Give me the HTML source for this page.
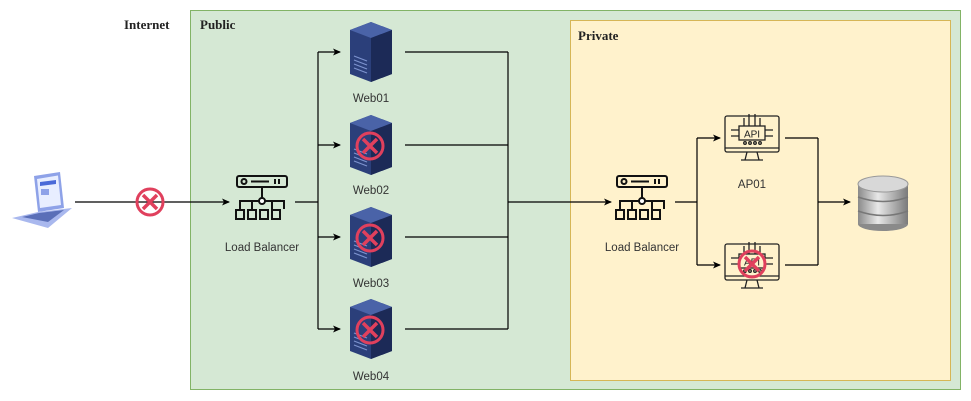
<!DOCTYPE html>
<html><head><style>
body{margin:0;background:#fff;width:971px;height:401px;overflow:hidden}
svg{display:block}
text{font-family:"Liberation Sans",sans-serif}
.lbl{font-family:"Liberation Sans",sans-serif;font-size:11.5px;fill:#333}
.h{font-family:"Liberation Serif",serif;font-weight:bold;font-size:13px;fill:#222}
</style></head><body>
<svg width="971" height="401" viewBox="0 0 971 401">
<defs>
<marker id="a" markerWidth="8" markerHeight="8" refX="7" refY="4" orient="auto" markerUnits="userSpaceOnUse"><path d="M0,0.5 L8,4 L0,7.5 L2,4z" fill="#000"/></marker>
<g id="srv">
<path d="M0,8 L21,0 L42,8 L42,52 L21,60 L0,52z" fill="#2b3f7a"/>
<path d="M0,8 L21,16 L42,8 L21,0z" fill="#4a63a8"/>
<path d="M21,16 L42,8 L42,52 L21,60z" fill="#1c2a57"/>
<g stroke="#7d93cf" stroke-width="1.2"><line x1="4" y1="34" x2="17" y2="39"/><line x1="4" y1="38" x2="17" y2="43"/><line x1="4" y1="42" x2="17" y2="47"/><line x1="4" y1="46" x2="17" y2="51"/></g>
</g>
<g id="err"><circle cx="0" cy="0" r="13" fill="none" stroke="#e0405d" stroke-width="3"/><path d="M-7,-7 L7,7 M7,-7 L-7,7" stroke="#e0405d" stroke-width="3.5"/></g>
<g id="lb" fill="none" stroke="#111" stroke-width="2">
<rect x="2" y="0" width="50" height="11" rx="2"/><circle cx="9" cy="5.5" r="2.5"/><line x1="16" y1="5.5" x2="34" y2="5.5"/><line x1="40" y1="3" x2="40" y2="8"/><line x1="44" y1="3" x2="44" y2="8"/>
<line x1="27" y1="11" x2="27" y2="22"/><circle cx="27" cy="25" r="3" fill="#fff"/>
<path d="M5,33 V25 H24 M30,25 H49 V33 M17,33 V25 M37,33 V25"/>
<rect x="1" y="34" width="8" height="9"/><rect x="13" y="34" width="8" height="9"/><rect x="25" y="34" width="8" height="9"/><rect x="37" y="34" width="8" height="9"/>
</g>
<g id="api" fill="none" stroke="#222" stroke-width="1.3">
<rect x="0" y="4" width="54" height="36" rx="2"/><line x1="0" y1="36" x2="54" y2="36"/>
<path d="M22,40 L20,48 M32,40 L34,48 M16,48 H38"/>
<rect x="14" y="14" width="26" height="14"/>
<text x="27" y="25.5" font-size="10" text-anchor="middle" fill="#222" stroke="none" font-family="Liberation Mono,monospace">API</text>
<path d="M19,14 V6 M24,14 V2 M30,14 V2 M35,14 V6 M14,18 H6 M14,24 H6 M40,18 H48 M40,24 H48"/>
<circle cx="20" cy="31" r="1.3"/><circle cx="25" cy="31" r="1.3"/><circle cx="30" cy="31" r="1.3"/><circle cx="35" cy="31" r="1.3"/>
</g>
<linearGradient id="dbg" x1="0" x2="1"><stop offset="0" stop-color="#8a8a8a"/><stop offset=".4" stop-color="#e8e8e8"/><stop offset="1" stop-color="#7a7a7a"/></linearGradient>
</defs>
<rect x="190.5" y="10.5" width="770" height="379" fill="#d5e8d4" stroke="#82b366"/>
<rect x="570.5" y="20.5" width="380" height="360" fill="#fff2cc" stroke="#d6b656"/>
<text class="h" x="124" y="29">Internet</text>
<text class="h" x="200" y="29">Public</text>
<text class="h" x="578" y="40">Private</text>
<!-- laptop -->
<g transform="translate(12,172)">
<path d="M22,4 L48,0 L52,36 L26,40z" fill="#8ea2e8"/>
<path d="M25,7 L46,3.5 L49,33 L28,36z" fill="#e8eeff"/>
<path d="M28,10 L44,8 L44,12 L28,14z" fill="#4a6ad8"/>
<rect x="29" y="17" width="8" height="6" fill="#8ea2e8"/>
<path d="M0,46 L26,40 L60,36 L36,56z" fill="#a9b8ee"/>
<path d="M10,45 L27,41 L52,38 L36,50z" fill="#5a6fb8"/>
</g>
<g fill="none" stroke="#000" stroke-width="1.2">
<line x1="75" y1="202" x2="229" y2="202" marker-end="url(#a)"/>
<path d="M295,202 H318 M318,52 V329"/>
<line x1="318" y1="52" x2="340" y2="52" marker-end="url(#a)"/>
<line x1="318" y1="145" x2="340" y2="145" marker-end="url(#a)"/>
<line x1="318" y1="237" x2="340" y2="237" marker-end="url(#a)"/>
<line x1="318" y1="329" x2="340" y2="329" marker-end="url(#a)"/>
<path d="M405,52 H508 M405,145 H508 M405,237 H508 M405,329 H508 M508,52 V329"/>
<line x1="508" y1="202" x2="611" y2="202" marker-end="url(#a)"/>
<path d="M675,202 H697 M697,138 V265"/>
<line x1="697" y1="138" x2="720" y2="138" marker-end="url(#a)"/>
<line x1="697" y1="265" x2="720" y2="265" marker-end="url(#a)"/>
<path d="M785,138 H818 M785,265 H818 M818,138 V265"/>
<line x1="818" y1="202" x2="850" y2="202" marker-end="url(#a)"/>
</g>
<use href="#err" x="150" y="202"/>
<use href="#lb" x="235" y="176"/>
<text class="lbl" x="262" y="251" text-anchor="middle">Load Balancer</text>
<use href="#srv" x="350" y="22"/><text class="lbl" x="371" y="102" text-anchor="middle">Web01</text>
<use href="#srv" x="350" y="115"/><use href="#err" x="370" y="146"/><text class="lbl" x="371" y="194" text-anchor="middle">Web02</text>
<use href="#srv" x="350" y="207"/><use href="#err" x="370" y="238"/><text class="lbl" x="371" y="287" text-anchor="middle">Web03</text>
<use href="#srv" x="350" y="299"/><use href="#err" x="370" y="330"/><text class="lbl" x="371" y="380" text-anchor="middle">Web04</text>
<use href="#lb" x="615" y="176"/>
<text class="lbl" x="642" y="251" text-anchor="middle">Load Balancer</text>
<use href="#api" x="725" y="112"/>
<text class="lbl" x="752" y="188" text-anchor="middle">AP01</text>
<use href="#api" x="725" y="240"/><use href="#err" x="752" y="264"/>
<g>
<rect x="858" y="184" width="50" height="40" fill="url(#dbg)"/>
<ellipse cx="883" cy="224" rx="25" ry="7" fill="#8a8a8a"/>
<rect x="858" y="184" width="50" height="40" fill="url(#dbg)"/>
<ellipse cx="883" cy="184" rx="25" ry="8" fill="#d8d8d8" stroke="#999"/>
<path d="M858,197 Q883,206 908,197 M858,211 Q883,220 908,211" fill="none" stroke="#777" stroke-width="1.5"/>
</g>
</svg>
</body></html>
